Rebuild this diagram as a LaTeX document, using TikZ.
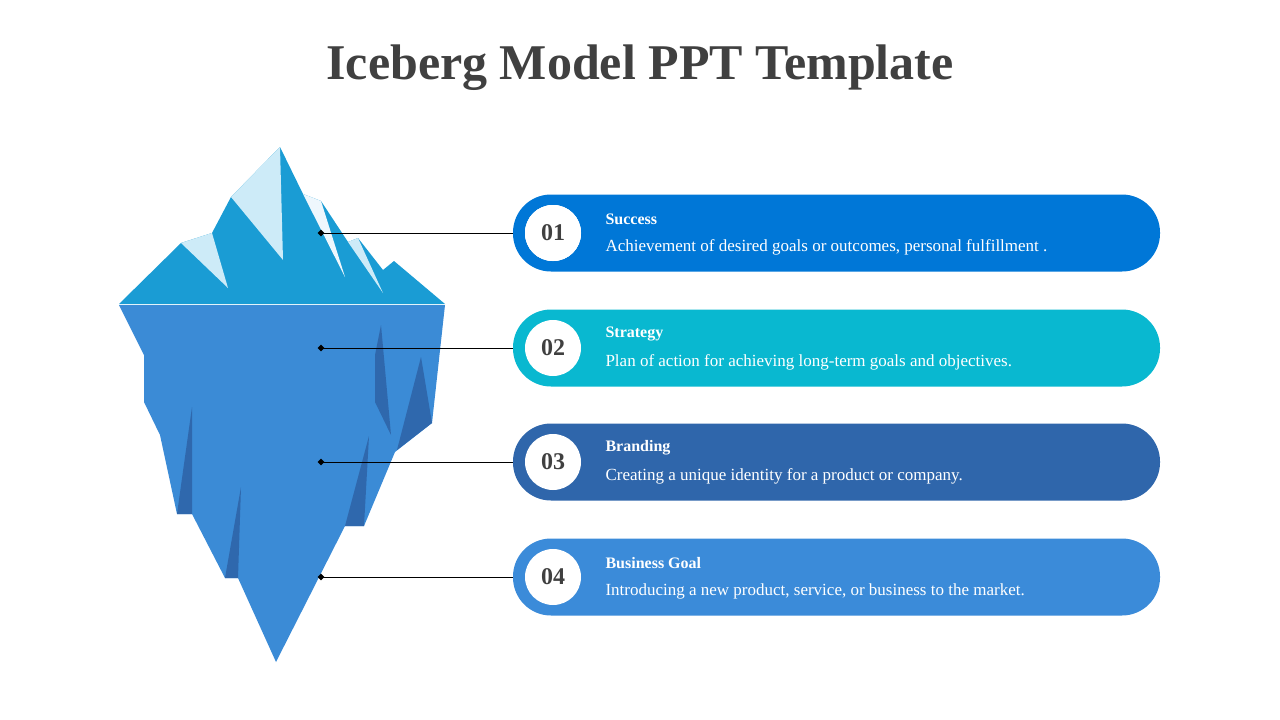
\documentclass[tikz,border=0pt]{standalone}
\usepackage{fontspec}
\setmainfont{Liberation Serif}
\definecolor{icetop}{HTML}{1A9CD4}
\definecolor{icelight}{HTML}{CDEBF8}
\definecolor{icewhite}{HTML}{EEF7FD}
\definecolor{icebody}{HTML}{3B8BD6}
\definecolor{iceshade}{HTML}{2F68AD}
\definecolor{titlegray}{HTML}{404040}
\definecolor{pillA}{HTML}{0077D7}
\definecolor{pillB}{HTML}{09B8D0}
\definecolor{pillC}{HTML}{2F66AB}
\definecolor{pillD}{HTML}{3B8BD9}
\tikzset{
  pill/.style={rounded corners=38pt, minimum width=647pt, minimum height=77pt, inner sep=0pt},
  numdisc/.style={circle, fill=white, minimum size=56pt, inner sep=0pt, text=titlegray, font=\fontsize{24}{28}\selectfont\bfseries},
  headtext/.style={anchor=west, text=white, font=\fontsize{16}{19}\selectfont\bfseries},
  bodytext/.style={anchor=west, text=white, font=\fontsize{17}{20}\selectfont},
  marker/.style={diamond, fill=black, inner sep=0pt, minimum size=7pt},
}
\usetikzlibrary{shapes.geometric}
\begin{document}
\begin{tikzpicture}[x=1pt,y=-1pt]
  \useasboundingbox (0,0) rectangle (1280,720);
  \node[text=titlegray, font=\fontsize{50}{56}\selectfont\bfseries] (title) at (640,68) {Iceberg Model PPT Template};
  % iceberg, above the water
  \fill[icetop] (119,304) -- (181,243) -- (212,233) -- (231,197) -- (280,147) -- (303,194) -- (321,201)
    -- (348,242) -- (358,238) -- (383,270) -- (394,261) -- (445,304) -- cycle;
  \fill[icelight] (181,243) -- (212,233) -- (228,288) -- cycle;
  \fill[icelight] (231,197) -- (280,147) -- (283,260) -- cycle;
  \fill[icewhite] (303,194) -- (321,201) -- (345,277) -- cycle;
  \fill[icelight] (348,242) -- (358,238) -- (383,293) -- cycle;
  % iceberg, below the water
  \fill[icebody] (119,305) -- (445,305) -- (432,423) -- (395,452) -- (364,526) -- (345,526) -- (276,662)
    -- (238,578) -- (225,578) -- (192,514) -- (177,514) -- (160,435) -- (144,402) -- (144,355) -- cycle;
  \fill[iceshade] (375,355) -- (381,325) -- (391,435) -- (375,402) -- cycle;
  \fill[iceshade] (397,450) -- (421,357) -- (432,423) -- cycle;
  \fill[iceshade] (345,526) -- (369,436) -- (364,526) -- cycle;
  \fill[iceshade] (177,514) -- (192,407) -- (192,514) -- cycle;
  \fill[iceshade] (225,578) -- (241,487) -- (238,578) -- cycle;
  % items
  \foreach \n/\yy/\col/\head/\body in {
      01/233/pillA/Success/{Achievement of desired goals or outcomes, personal fulfillment .},
      02/348/pillB/Strategy/{Plan of action for achieving long-term goals and objectives.},
      03/462/pillC/Branding/{Creating a unique identity for a product or company.},
      04/577/pillD/Business Goal/{Introducing a new product, service, or business to the market.}} {
    \node[pill, fill=\col] (pill-\n) at (836.5,\yy) {};
    \node[numdisc] (num-\n) at (553,\yy) {\n};
    \node[headtext] (head-\n) at (602,\yy-14) {\head};
    \node[bodytext] (body-\n) at (602,\yy+14) {\body};
    \node[marker] (dot-\n) at (321,\yy) {};
    \draw[black, line width=0.8pt] (dot-\n.center) -- (pill-\n.west);
  }
  \fill[white] (num-01) circle (28pt); \node[numdisc] at (num-01) {01};
\end{tikzpicture}
\end{document}
